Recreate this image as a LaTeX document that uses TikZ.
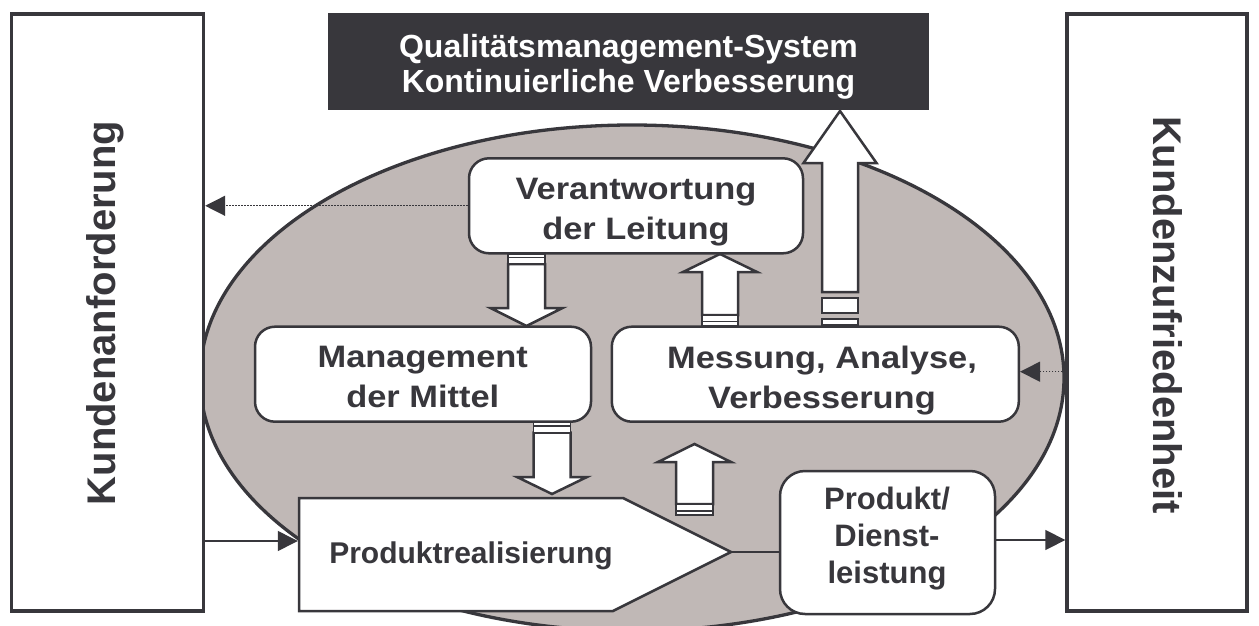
\documentclass[tikz,border=0pt]{standalone}
\usepackage{fontspec}
\setmainfont{Liberation Sans}
\newfontfamily\widesans{Liberation Sans}[FakeStretch=1.11]
\usetikzlibrary{arrows.meta,shapes.geometric}
\definecolor{ink}{RGB}{56,55,60}
\definecolor{ovalfill}{RGB}{192,184,182}

% hollow block arrow: centre x, half shaft width, half head width, tip y, head base y, shaft end y
\newcommand{\blockarr}[6]{%
  \draw[blockarrow] ({#1-#2},#6) -- ({#1-#2},#5) -- ({#1-#3},#5) -- (#1,#4)
    -- ({#1+#3},#5) -- ({#1+#2},#5) -- ({#1+#2},#6) -- cycle;}
% small bar at the tail of a block arrow: centre x, half width, y from, y to
\newcommand{\tailbar}[4]{%
  \draw[tailstripe] ({#1-#2},#3) rectangle ({#1+#2},#4);}

\begin{document}
\begin{tikzpicture}[x=1pt,y=-1pt,
  sidebox/.style={draw=ink,line width=3.3pt,fill=white,inner sep=0pt},
  card/.style={draw=ink,line width=2.5pt,fill=white,rounded corners=20pt,inner sep=0pt},
  boxtext/.style={text=ink,font=\bfseries\fontsize{32}{37}\selectfont,align=center,inner sep=0pt},
  cardtext/.style={boxtext,font=\widesans\bfseries\fontsize{31}{39.7}\selectfont},
  sidetext/.style={text=ink,font=\bfseries\fontsize{40}{44}\selectfont,inner sep=0pt},
  blockarrow/.style={draw=ink,line width=2.5pt,fill=white,line join=miter},
  tailstripe/.style={draw=ink,line width=1.6pt,fill=white},
  thinarrow/.style={draw=ink,line width=1.3pt,-{Triangle[length=20pt,width=20pt]}},
  dotarrow/.style={draw=ink,line width=1.3pt,dash pattern=on 1.3pt off 1.7pt,-{Triangle[length=20pt,width=20pt]}},
]
\fill[white] (0,0) rectangle (1259,626);
\useasboundingbox (0,0) rectangle (1259,626);

% process oval
\node[ellipse,draw=ink,line width=3.3pt,fill=ovalfill,minimum width=864pt,minimum height=506pt,inner sep=0pt] (oval) at (632,378) {};

% customer side boxes
\node[sidebox,minimum width=192pt,minimum height=597pt] (leftbox) at (107.5,312.5) {};
\node[sidebox,minimum width=180pt,minimum height=597pt] (rightbox) at (1157,312.5) {};
\node[sidetext,rotate=90] (lefttext) at (105.5,313) {Kundenanforderung};
\node[sidetext,rotate=-90] (righttext) at (1168,315) {Kundenzufriedenheit};

% quality management banner
\node[fill=ink,minimum width=601pt,minimum height=97pt,inner sep=0pt] (qms) at (628.5,61.5) {};
\node[boxtext,text=white,font=\bfseries\fontsize{32}{35}\selectfont] (qmstext) at (628.5,66.3)
  {Qualitätsmanagement-System\\Kontinuierliche Verbesserung};

% improvement arrow up to the banner
\blockarr{840}{18}{36.5}{111}{163}{292}
\tailbar{840}{18}{298}{313}
\tailbar{840}{18}{319}{325}

% process boxes
\node[card,minimum width=334pt,minimum height=95pt] (verant) at (636,205.8) {};
\node[cardtext] (veranttext) at (636,211.8) {Verantwortung\\der Leitung};
\node[card,minimum width=336pt,minimum height=95pt] (mgmt) at (423,374.2) {};
\node[cardtext] (mgmttext) at (422.8,377.2) {Management\\der Mittel};
\node[card,minimum width=407pt,minimum height=95pt] (mess) at (815.3,374.2) {};
\node[cardtext] (messtext) at (822,380.5) {Messung, Analyse,\\Verbesserung};
\node[card,rounded corners=25pt,minimum width=215pt,minimum height=143pt] (produkt) at (887.5,542.5) {};
\node[boxtext,font=\bfseries\fontsize{31}{37}\selectfont] (produkttext) at (887,538.5) {Produkt/\\Dienst-\\leistung};

% product realisation
\draw[draw=ink,line width=2.5pt,fill=white,line join=miter]
  (299,498) -- (623,498) -- (731,552) -- (613,611) -- (299,611) -- cycle;
\coordinate (penttip) at (731,552);
\coordinate (pentwest) at (297.8,541);
\node[boxtext,font=\bfseries\fontsize{30}{36}\selectfont,anchor=base] (realtext) at (471,563) {Produktrealisierung};

% block arrows between the process boxes
\blockarr{526.5}{18.5}{36}{326}{308}{264}
\tailbar{526.5}{18.5}{254}{257.5}
\tailbar{526.5}{18.5}{257.5}{264}

\blockarr{552}{18.5}{35}{494}{477}{432.5}
\tailbar{552}{18.5}{422}{426}
\tailbar{552}{18.5}{426}{432.5}

\blockarr{694.5}{18.5}{36.5}{444}{462}{504}
\tailbar{694.5}{18.5}{504}{511}
\tailbar{694.5}{18.5}{511}{515}

\blockarr{720}{18}{37}{254}{272}{315}
\tailbar{720}{18}{315}{321.5}
\tailbar{720}{18}{321.5}{326}

% connectors
\coordinate (prodout) at ([yshift=2.5pt]produkt.east);
\coordinate (messin) at ([yshift=2.5pt]mess.east);
\draw[thinarrow] (leftbox.east |- pentwest) -- (pentwest);
\draw[draw=ink,line width=1.3pt] (penttip) -- (produkt.west |- penttip);
\draw[thinarrow] (prodout) -- (rightbox.west |- prodout);
\draw[dotarrow] (verant.west) -- (leftbox.east |- verant.west);
\draw[dotarrow] (rightbox.west |- messin) -- (messin);
\end{tikzpicture}
\end{document}
